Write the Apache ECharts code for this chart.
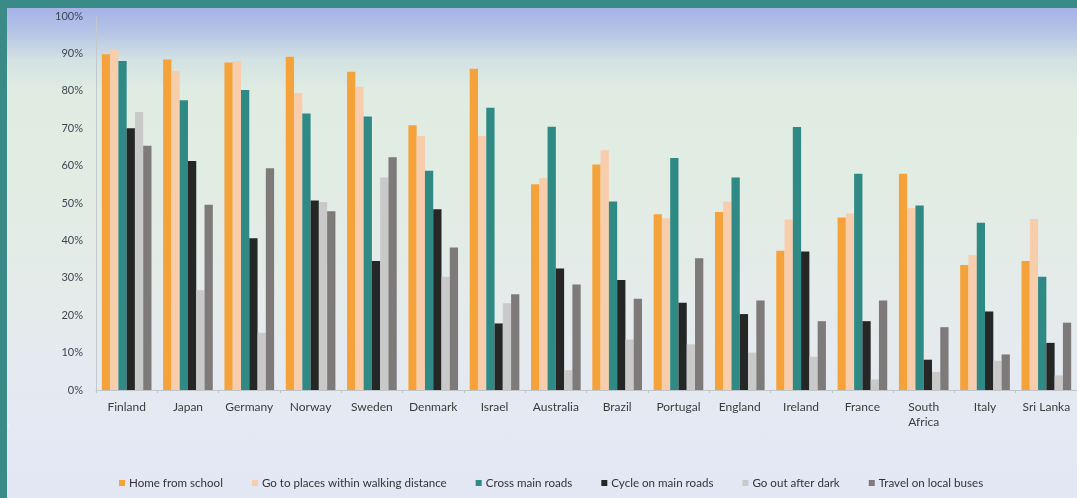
<!DOCTYPE html>
<html>
<head>
<meta charset="utf-8">
<script src="https://cdn.jsdelivr.net/npm/echarts@6/dist/echarts.min.js"></script>
<style>
  html, body { margin: 0; padding: 0; }
  #wrap {
    position: relative; width: 1077px; height: 498px; overflow: hidden;
    background: linear-gradient(to bottom, #a2ade9 0px, #b3c2e6 30px, #d3e2e2 60px, #e0ece2 90px, #e2ece4 200px, #e5ebec 320px, #e4e9f3 420px, #e3e7f5 498px);
  }
  #topbar { position: absolute; left: 0; top: 0; width: 1077px; height: 8px; background: #3a8a87; }
  #leftbar { position: absolute; left: 0; top: 0; width: 7px; height: 498px; background: #3a8a87; }
  #leftmark { position: absolute; left: 7px; top: 425px; width: 3px; height: 1px; background: #f4f6fa; }
  #chart { position: absolute; left: 0; top: 0; width: 1077px; height: 498px; }
</style>
</head>
<body>
<div id="wrap">
  <div id="topbar"></div>
  <div id="leftbar"></div>
  <div id="leftmark"></div>
  <div id="chart"></div>
</div>
<script>
// Share of children allowed to do each activity on their own, by country (%)
const countries = ['Finland', 'Japan', 'Germany', 'Norway', 'Sweden', 'Denmark', 'Israel', 'Australia',
  'Brazil', 'Portugal', 'England', 'Ireland', 'France', 'South\nAfrica', 'Italy', 'Sri Lanka'];

const homeFromSchool   = [89.8, 88.4, 87.6, 89.1, 85.1, 70.8, 85.9, 55.0, 60.3, 47.0, 47.6, 37.2, 46.1, 57.8, 33.4, 34.5];
const walkingDistance  = [91.0, 85.3, 88.0, 79.4, 81.1, 67.9, 67.9, 56.6, 64.1, 45.9, 50.4, 45.6, 47.2, 48.6, 36.1, 45.7];
const crossMainRoads   = [88.0, 77.5, 80.2, 73.9, 73.1, 58.6, 75.5, 70.4, 50.4, 62.0, 56.8, 70.3, 57.8, 49.3, 44.7, 30.3];
const cycleMainRoads   = [70.0, 61.2, 40.6, 50.7, 34.5, 48.3, 17.8, 32.5, 29.4, 23.3, 20.3, 37.0, 18.4,  8.1, 21.0, 12.6];
const goOutAfterDark   = [74.3, 26.7, 15.3, 50.3, 56.8, 30.3, 23.2,  5.3, 13.5, 12.2, 10.0,  8.9,  2.8,  4.8,  7.8,  3.9];
const localBuses       = [65.3, 49.5, 59.3, 47.8, 62.2, 38.1, 25.6, 28.2, 24.4, 35.2, 23.9, 18.4, 23.9, 16.8,  9.5, 18.0];

const yTicks = [0, 10, 20, 30, 40, 50, 60, 70, 80, 90, 100];

const seriesDefs = [
  { name: 'Home from school', data: homeFromSchool, color: '#f5a23b' },
  { name: 'Go to places within walking distance', data: walkingDistance, color: '#f8cdab' },
  { name: 'Cross main roads', data: crossMainRoads, color: '#2f8985' },
  { name: 'Cycle on main roads', data: cycleMainRoads, color: '#252727' },
  { name: 'Go out after dark', data: goOutAfterDark, color: '#c9c9c9' },
  { name: 'Travel on local buses', data: localBuses, color: '#7e7a7a' }
];

const chart = echarts.init(document.getElementById('chart'), null, { renderer: 'canvas' });
const font = 'Lato, "Open Sans", sans-serif';

chart.setOption({
  backgroundColor: 'transparent',
  animation: false,
  grid: { left: 96, right: -7, top: 16, bottom: 108 },
  legend: {
    left: 114, top: 472,
    icon: 'rect', itemWidth: 6, itemHeight: 6, itemGap: 29,
    textStyle: { fontFamily: font, fontSize: 11.6, color: '#333333', padding: [0, 0, 0, -1] },
    data: seriesDefs.map(s => s.name)
  },
  xAxis: {
    type: 'category',
    data: countries,
    axisLine: { show: true, lineStyle: { color: '#bfc4c8', width: 1 } },
    axisTick: { show: true, length: 3, lineStyle: { color: '#bfc4c8' } },
    axisLabel: { fontFamily: font, fontSize: 12, color: '#3c3c3c', margin: 10, lineHeight: 15, interval: 0 }
  },
  yAxis: {
    type: 'value',
    min: yTicks[0], max: yTicks[yTicks.length - 1], interval: 10,
    axisLine: { show: true, lineStyle: { color: '#c3c8cc', width: 1 } },
    axisTick: { show: false },
    splitLine: { show: false },
    axisLabel: { fontFamily: font, fontSize: 11, color: '#404552', margin: 13, formatter: v => v + '%' }
  },
  series: seriesDefs.map(s => ({
    name: s.name,
    type: 'bar',
    data: s.data,
    itemStyle: { color: s.color },
    barGap: '0%',
    barCategoryGap: '19%'
  }))
});
</script>
</body>
</html>
